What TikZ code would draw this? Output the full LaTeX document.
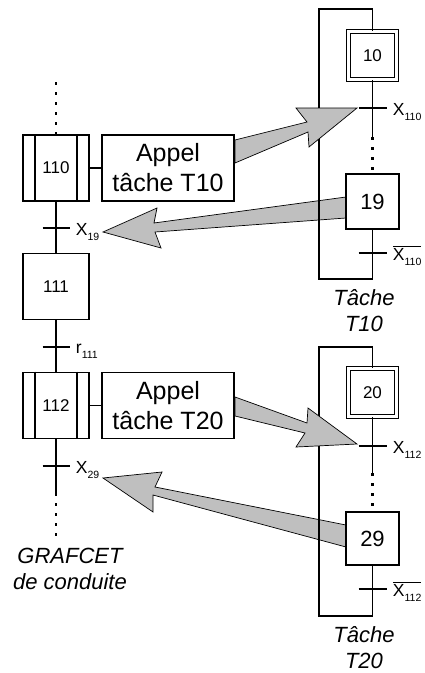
\documentclass[tikz,border=0pt]{standalone}
\usepackage{fontspec}
\setmainfont{Liberation Sans}
\usepackage{tikz}

\newcommand\fs[1]{\fontsize{#1}{#1}\selectfont}
\newcommand\indice[1]{\raisebox{-5pt}{\fs{10.5}#1}}
\newcommand\barre[1]{$\overline{\hbox{#1}}$}

\begin{document}
\begin{tikzpicture}[x=1pt, y=-1pt, line width=1.9pt,
	etape/.style={draw, minimum width=66pt, minimum height=66pt, inner sep=0pt, font=\fs{17}},
	etapeinit/.style={draw, double, double distance=2.4pt, line width=1.5pt, minimum size=48pt, inner sep=0pt, font=\fs{17}},
	tache/.style={draw, minimum width=53pt, inner sep=0pt, font=\fs{22}},
	action/.style={draw, minimum width=132pt, minimum height=66pt, inner sep=0pt, align=center, font=\fontsize{25}{30}\selectfont},
	pointille/.style={line width=2.4pt, dash pattern=on 3pt off 7pt},
	fleche/.style={draw, fill=black!25, line width=0.7pt, line join=miter},
	recept/.style={anchor=base west, inner sep=0pt, font=\fs{17.5}},
	titre/.style={align=center, inner sep=0pt, font=\fontsize{22}{26}\selectfont\itshape}]
	\useasboundingbox (0,0) rectangle (425,673);
	% grafcet de conduite
	\node[etape] (s110) at (56,168) {110};
	\node[etape] (s111) at (56,286.5) {111};
	\node[etape] (s112) at (56,405.5) {112};
	\draw ([xshift=13pt]s110.north west) -- ([xshift=13pt]s110.south west);
	\draw ([xshift=-13pt]s110.north east) -- ([xshift=-13pt]s110.south east);
	\draw ([xshift=13pt]s112.north west) -- ([xshift=13pt]s112.south west);
	\draw ([xshift=-13pt]s112.north east) -- ([xshift=-13pt]s112.south east);
	\node[action] (a10) at (168,168) {Appel\\tâche T10};
	\node[action] (a20) at (168,405.5) {Appel\\tâche T20};
	\draw (s110.east) -- (a10.west);
	\draw (s112.east) -- (a20.west);
	\coordinate (haut) at (56,82);
	\coordinate (bas) at (56,493);
	\coordinate (fin) at (56,543);
	\coordinate (t19) at (56,228);
	\coordinate (t111) at (56,347);
	\coordinate (t29) at (56,466);
	\draw[pointille] (haut) -- (s110.north);
	\draw (s110.south) -- (s111.north);
	\draw (s111.south) -- (s112.north);
	\draw (s112.south) -- (bas);
	\draw[pointille] (bas) -- (fin);
	\foreach \t in {t19,t111,t29}
		\draw ([xshift=-13.5pt]\t) -- ([xshift=13.5pt]\t);
	\node[recept] (r19) at (75,235) {X\indice{19}};
	\node[recept] (r111) at (75,353) {r\indice{111}};
	\node[recept] (r29) at (75,473) {X\indice{29}};
	\node[titre] (gc) at (70,569) {GRAFCET\\de conduite};
	% fleches de retour (sous les traits)
	\path[fleche] (346,197) -- (154,223) -- (157,208) -- (103,232) -- (161,248) -- (155,232) -- (346,218) -- cycle;
	\path[fleche] (346,525) -- (155,487) -- (162,472) -- (103,478) -- (153,512) -- (153,495) -- (346,547) -- cycle;
	% tache T10
	\node[etapeinit] (s10) at (372.5,55.5) {10};
	\node[tache, minimum height=55pt] (s19) at (372.5,201.5) {19};
	\coordinate (h10) at (372.5,9);
	\coordinate (b10) at (319,279);
	\coordinate (p10) at (372.5,137);
	\coordinate (t110) at (372.5,108);
	\coordinate (t110b) at (372.5,253);
	\draw (s10.south) -- (p10);
	\draw[pointille] (p10) -- (s19.north);
	\draw (s10.north) -- (h10) -| (b10) -| (s19.south);
	\foreach \t in {t110,t110b}
		\draw ([xshift=-14pt]\t) -- ([xshift=14pt]\t);
	\node[recept] (r110) at (392,115) {X\indice{110}};
	\node[recept] (r110b) at (392,260) {\barre{X\indice{110}}};
	\node[titre] (n10) at (364,311) {Tâche\\T10};
	% tache T20
	\node[etapeinit] (s20) at (372.5,392.5) {20};
	\node[tache, minimum height=53pt] (s29) at (372.5,538.5) {29};
	\coordinate (h20) at (372.5,347);
	\coordinate (b20) at (319,616);
	\coordinate (p20) at (372.5,473);
	\coordinate (t112) at (372.5,446);
	\coordinate (t112b) at (372.5,589);
	\draw (s20.south) -- (p20);
	\draw[pointille] (p20) -- (s29.north);
	\draw (s20.north) -- (h20) -| (b20) -| (s29.south);
	\foreach \t in {t112,t112b}
		\draw ([xshift=-14pt]\t) -- ([xshift=14pt]\t);
	\node[recept] (r112) at (392,453) {X\indice{112}};
	\node[recept] (r112b) at (392,596) {\barre{X\indice{112}}};
	\node[titre] (n20) at (364,648) {Tâche\\T20};
	% fleches d'appel (sur les traits)
	\path[fleche] (235,140) -- (307,122) -- (296,108) -- (357,108) -- (309,147) -- (308,132) -- (235,163) -- cycle;
	\path[fleche] (235,397) -- (307,423) -- (308,408) -- (357,444) -- (296,447) -- (305,433) -- (235,416) -- cycle;
\end{tikzpicture}
\end{document}
